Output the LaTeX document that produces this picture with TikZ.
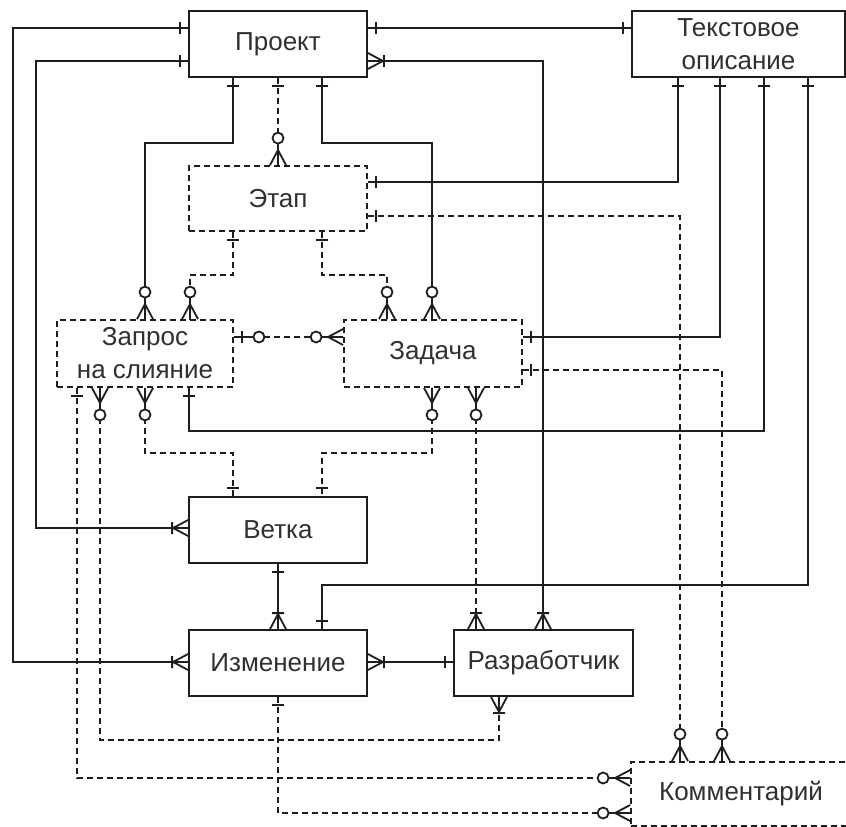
\documentclass[tikz,border=0pt]{standalone}
\usepackage{fontspec}
\setmainfont{Liberation Sans}
\usetikzlibrary{calc}
\definecolor{lc}{HTML}{1E1E1E}
\definecolor{tc}{HTML}{303030}
\tikzset{
  ent/.style={draw=lc, line width=1.8pt, minimum width=178pt, minimum height=66pt,
    inner sep=0pt, align=center, text=tc, font=\fontsize{26}{33}\selectfont},
  went/.style={ent, dash pattern=on 6pt off 4pt},
  rel/.style={draw=lc, line width=1.8pt},
  opt/.style={rel, dash pattern=on 6pt off 4pt},
  mk/.style={draw=lc, line width=1.8pt, solid},
  pics/one/.style={code={\draw[mk] (8,-6) -- (8,6);}},
  pics/onemany/.style={code={\draw[mk] (0,-8) -- (15,0) -- (0,8) (0,0) -- (15,0) (16,-6) -- (16,6);}},
  pics/zeromany/.style={code={\draw[mk] (0,-8) -- (15,0) -- (0,8) (0,0) -- (22,0); \draw[mk, fill=white] (27,0) circle (5.5);}},
  pics/zeroone/.style={code={\draw[mk] (0,0) -- (20,0) (8,-6) -- (8,6); \draw[mk, fill=white] (25,0) circle (5.5);}},
}
\begin{document}
\begin{tikzpicture}[x=1pt,y=-1pt]
\useasboundingbox[fill=white] (0,0) rectangle (846,827);

% entities
\node[ent] (proj) at (278,44) {Проект};
\node[ent, minimum width=213pt] (txt) at (738.5,44) {Текстовое\\описание};
\node[went, minimum height=65pt] (etap) at (278,198.5) {Этап};
\node[went, minimum width=176pt, minimum height=67pt] (zap) at (145,353.5) {Запрос\\на слияние};
\node[went, minimum height=67pt] (zad) at (433,353.5) {Задача};
\node[ent] (vet) at (278,530) {Ветка};
\node[ent] (izm) at (278,663) {Изменение};
\node[ent, minimum width=179pt] (raz) at (543.5,663) {Разработчик};
\node[went, minimum width=220pt, minimum height=64pt] (kom) at (741,794) {Комментарий};

% endpoints
\coordinate (pw1) at (proj.west |- 0,28);
\coordinate (pw2) at (proj.west |- 0,61);
\coordinate (pe1) at (proj.east |- 0,28);
\coordinate (pe2) at (proj.east |- 0,61);
\coordinate (ps1) at (proj.south -| 233,0);
\coordinate (ps2) at (proj.south -| 278,0);
\coordinate (ps3) at (proj.south -| 322,0);
\coordinate (tw) at (txt.west |- 0,28);
\coordinate (ts1) at (txt.south -| 678,0);
\coordinate (ts2) at (txt.south -| 720,0);
\coordinate (ts3) at (txt.south -| 764,0);
\coordinate (ts4) at (txt.south -| 808,0);
\coordinate (en) at (etap.north -| 278,0);
\coordinate (ee1) at (etap.east |- 0,182);
\coordinate (ee2) at (etap.east |- 0,216);
\coordinate (es1) at (etap.south -| 233,0);
\coordinate (es2) at (etap.south -| 322,0);
\coordinate (zan1) at (zap.north -| 145,0);
\coordinate (zan2) at (zap.north -| 190,0);
\coordinate (zae) at (zap.east |- 0,337);
\coordinate (zas1) at (zap.south -| 77,0);
\coordinate (zas2) at (zap.south -| 100,0);
\coordinate (zas3) at (zap.south -| 145,0);
\coordinate (zas4) at (zap.south -| 189,0);
\coordinate (zdn1) at (zad.north -| 387,0);
\coordinate (zdn2) at (zad.north -| 432,0);
\coordinate (zdw) at (zad.west |- 0,337);
\coordinate (zde1) at (zad.east |- 0,337);
\coordinate (zde2) at (zad.east |- 0,370);
\coordinate (zds1) at (zad.south -| 432,0);
\coordinate (zds2) at (zad.south -| 476,0);
\coordinate (vw) at (vet.west |- 0,528);
\coordinate (vn1) at (vet.north -| 233,0);
\coordinate (vn2) at (vet.north -| 322,0);
\coordinate (vs) at (vet.south -| 278,0);
\coordinate (iw) at (izm.west |- 0,662);
\coordinate (ie) at (izm.east |- 0,662);
\coordinate (in1) at (izm.north -| 278,0);
\coordinate (in2) at (izm.north -| 322,0);
\coordinate (is) at (izm.south -| 278,0);
\coordinate (rw) at (raz.west |- 0,662);
\coordinate (rn1) at (raz.north -| 476,0);
\coordinate (rn2) at (raz.north -| 543,0);
\coordinate (rs) at (raz.south -| 499,0);
\coordinate (kn1) at (kom.north -| 680,0);
\coordinate (kn2) at (kom.north -| 722,0);
\coordinate (kw1) at (kom.west |- 0,778);
\coordinate (kw2) at (kom.west |- 0,813);

% solid relationships
\draw[rel] (pw1) -- (13,28) |- (iw);
\draw[rel] (pw2) -- (36,61) |- (vw);
\draw[rel] (ps1) -- (233,143) -| (zan1);
\draw[rel] (ps3) -- (322,143) -| (zdn2);
\draw[rel] (pe1) -- (tw);
\draw[rel] (pe2) -| (rn2);
\draw[rel] (ts1) |- (ee1);
\draw[rel] (ts2) |- (zde1);
\draw[rel] (ts3) -- (764,431) -| (zas4);
\draw[rel] (ts4) -- (808,585) -| (in2);
\draw[rel] (vs) -- (in1);
\draw[rel] (ie) -- (rw);

% dashed relationships
\draw[opt] (ps2) -- (en);
\draw[opt] (ee2) -| (kn1);
\draw[opt] (es2) -- (322,275) -| (zdn1);
\draw[opt] (es1) -- (233,275) -| (zan2);
\draw[opt] (zae) -- (zdw);
\draw[opt] (zas1) |- (kw1);
\draw[opt] (zas2) -- (100,740) -| (rs);
\draw[opt] (zas3) -- (145,453) -| (vn1);
\draw[opt] (zds1) -- (432,453) -| (vn2);
\draw[opt] (zds2) -- (rn1);
\draw[opt] (is) |- (kw2);
\draw[opt] (zde2) -| (kn2);

% markers
\pic[rotate=180] at (pw1) {one};
\pic[rotate=180] at (iw) {onemany};
\pic[rotate=180] at (pw2) {one};
\pic[rotate=180] at (vw) {onemany};
\pic[rotate=-90] at (ps1) {one};
\pic[rotate=90] at (zan1) {zeromany};
\pic[rotate=-90] at (ps2) {one};
\pic[rotate=90] at (en) {zeromany};
\pic[rotate=-90] at (ps3) {one};
\pic[rotate=90] at (zdn2) {zeromany};
\pic at (pe1) {one};
\pic[rotate=180] at (tw) {one};
\pic at (pe2) {onemany};
\pic[rotate=90] at (rn2) {onemany};
\pic[rotate=-90] at (ts1) {one};
\pic at (ee1) {one};
\pic[rotate=-90] at (ts2) {one};
\pic at (zde1) {one};
\pic[rotate=-90] at (ts3) {one};
\pic[rotate=-90] at (zas4) {one};
\pic[rotate=-90] at (ts4) {one};
\pic[rotate=90] at (in2) {one};
\pic at (ee2) {one};
\pic[rotate=90] at (kn1) {zeromany};
\pic[rotate=-90] at (es2) {one};
\pic[rotate=90] at (zdn1) {zeromany};
\pic[rotate=-90] at (es1) {one};
\pic[rotate=90] at (zan2) {zeromany};
\pic at (zae) {zeroone};
\pic[rotate=180] at (zdw) {zeromany};
\pic[rotate=-90] at (zas1) {one};
\pic[rotate=180] at (kw1) {zeromany};
\pic[rotate=-90] at (zas2) {zeromany};
\pic[rotate=-90] at (rs) {onemany};
\pic[rotate=-90] at (zas3) {zeromany};
\pic[rotate=90] at (vn1) {one};
\pic[rotate=-90] at (zds1) {zeromany};
\pic[rotate=90] at (vn2) {one};
\pic[rotate=-90] at (zds2) {zeromany};
\pic[rotate=90] at (rn1) {onemany};
\pic[rotate=-90] at (vs) {one};
\pic[rotate=90] at (in1) {onemany};
\pic at (ie) {onemany};
\pic[rotate=180] at (rw) {one};
\pic[rotate=-90] at (is) {one};
\pic[rotate=180] at (kw2) {zeromany};
\pic at (zde2) {one};
\pic[rotate=90] at (kn2) {zeromany};
\end{tikzpicture}
\end{document}
